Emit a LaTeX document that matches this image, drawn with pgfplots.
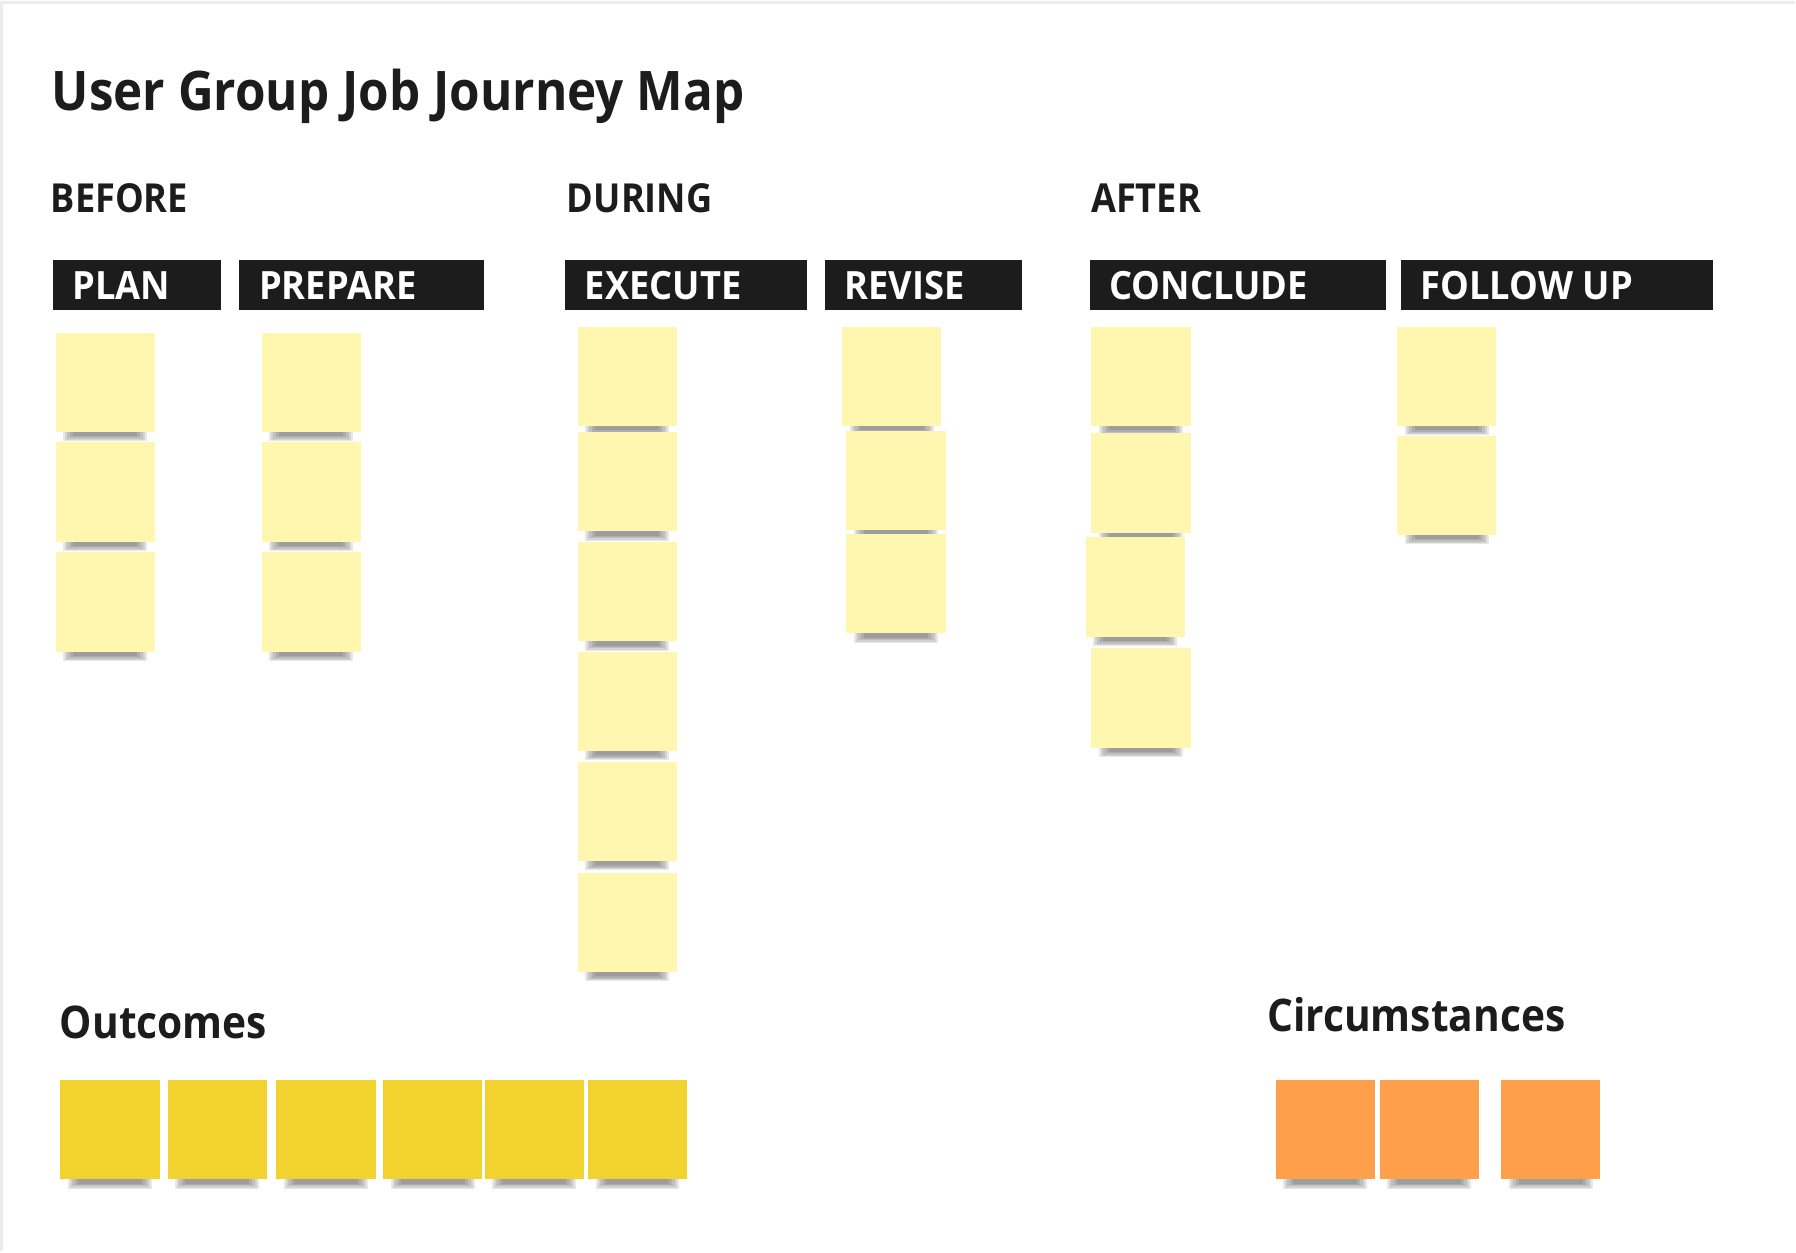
\documentclass[border=0pt]{standalone}
\usepackage{fontspec}
\setmainfont{Open Sans}[FakeStretch=0.905]
\newfontfamily\hdrfont{Open Sans}[FakeStretch=0.93]
\usepackage{pgfplots}
\pgfplotsset{compat=1.18}
\definecolor{ink}{HTML}{1C1C1C}
\definecolor{pale}{HTML}{FFF6B0}
\definecolor{gold}{HTML}{F2D22E}
\definecolor{orng}{HTML}{FD9F4B}
\pgfdeclareplotmark{shadow}{%
  \pgfsetfillcolor{black}%
  \pgfsetfillopacity{0.09}%
  \pgfpathrectangle{\pgfpoint{-21pt}{-29.5pt}}{\pgfpoint{42pt}{5.5pt}}\pgfusepath{fill}%
  \pgfpathrectangle{\pgfpoint{-20pt}{-29pt}}{\pgfpoint{40pt}{5pt}}\pgfusepath{fill}%
  \pgfpathrectangle{\pgfpoint{-19pt}{-28.3pt}}{\pgfpoint{38pt}{4.3pt}}\pgfusepath{fill}%
  \pgfpathrectangle{\pgfpoint{-17.5pt}{-27.6pt}}{\pgfpoint{35pt}{3.6pt}}\pgfusepath{fill}%
  \pgfpathrectangle{\pgfpoint{-16pt}{-27pt}}{\pgfpoint{32pt}{3pt}}\pgfusepath{fill}%
}
\begin{document}
\begin{tikzpicture}
\begin{axis}[width=898pt,height=626pt,scale only axis,
  xmin=0,xmax=1796,ymin=0,ymax=1252,y dir=reverse,
  hide axis,clip=false]
% page background and faint frame
\addplot[fill=white,draw=none] coordinates {(0,0)(1796,0)(1796,1252)(0,1252)} -- cycle;
\addplot[draw=black!8,line width=1.5pt] coordinates {(2,1252)(2,2)(1796,2)};
% header bars
\addplot[fill=ink,draw=none] coordinates {(52.7,260)(221.1,260)(221.1,310.4)(52.7,310.4)} -- cycle;
\addplot[fill=ink,draw=none] coordinates {(239.4,260)(484.5,260)(484.5,310.4)(239.4,310.4)} -- cycle;
\addplot[fill=ink,draw=none] coordinates {(565.8,260)(807.5,260)(807.5,310.4)(565.8,310.4)} -- cycle;
\addplot[fill=ink,draw=none] coordinates {(825.8,260)(1022.8,260)(1022.8,310.4)(825.8,310.4)} -- cycle;
\addplot[fill=ink,draw=none] coordinates {(1090.4,260)(1387,260)(1387,310.4)(1090.4,310.4)} -- cycle;
\addplot[fill=ink,draw=none] coordinates {(1402,260)(1714.6,260)(1714.6,310.4)(1402,310.4)} -- cycle;
% shadows of all notes
\addplot[only marks,mark=shadow] coordinates {
 (105.4,382.6)(105.4,492.5)(105.4,602.5)
 (311.5,382.6)(311.5,492.5)(311.5,602.5)
 (627.7,376.8)(627.7,482.2)(627.7,592.2)(627.7,702.1)(627.7,812.1)(627.7,923.2)
 (892.3,376.8)(896.8,481.1)(896.8,584.2)
 (1141.9,376.8)(1141.9,483.4)(1136.2,587.6)(1141.9,698.7)
 (1447.8,376.8)(1447.8,485.6)
 (110,1130.5)(217.6,1130.5)(326.4,1130.5)(433,1130.5)(534.9,1130.5)(638,1130.5)
 (1326.4,1130.5)(1430.6,1130.5)(1552,1130.5)};
% journey-step notes
\addplot[color=pale,only marks,mark=square*,mark size=24.6pt,mark options={fill=pale,draw=pale,line width=0pt}] coordinates {
 (105.4,382.6)(105.4,492.5)(105.4,602.5)
 (311.5,382.6)(311.5,492.5)(311.5,602.5)
 (627.7,376.8)(627.7,482.2)(627.7,592.2)(627.7,702.1)(627.7,812.1)(627.7,923.2)
 (892.3,376.8)(896.8,481.1)(896.8,584.2)
 (1141.9,376.8)(1141.9,483.4)(1136.2,587.6)(1141.9,698.7)
 (1447.8,376.8)(1447.8,485.6)};
% outcomes
\addplot[color=gold,only marks,mark=square*,mark size=24.6pt,mark options={fill=gold,draw=gold,line width=0pt}] coordinates {
 (110,1130.5)(217.6,1130.5)(326.4,1130.5)(433,1130.5)(534.9,1130.5)(638,1130.5)};
% circumstances
\addplot[color=orng,only marks,mark=square*,mark size=24.6pt,mark options={fill=orng,draw=orng,line width=0pt}] coordinates {
 (1326.4,1130.5)(1430.6,1130.5)(1552,1130.5)};
% texts
\node[anchor=base west,inner sep=0pt,text=ink,font=\fontsize{27.3}{30}\selectfont\bfseries] at (axis cs:51.5,111) {User Group Job Journey Map};
\node[anchor=base west,inner sep=0pt,text=ink,font=\fontsize{20}{22}\selectfont\bfseries] at (axis cs:50.4,213) {BEFORE};
\node[anchor=base west,inner sep=0pt,text=ink,font=\fontsize{20}{22}\selectfont\bfseries] at (axis cs:567,213) {DURING};
\node[anchor=base west,inner sep=0pt,text=ink,font=\fontsize{20}{22}\selectfont\bfseries] at (axis cs:1091.6,213) {AFTER};
\node[anchor=base west,inner sep=0pt,text=white,font=\hdrfont\fontsize{19.5}{22}\selectfont\bfseries] at (axis cs:72,300) {PLAN};
\node[anchor=base west,inner sep=0pt,text=white,font=\hdrfont\fontsize{19.5}{22}\selectfont\bfseries] at (axis cs:259,300) {PREPARE};
\node[anchor=base west,inner sep=0pt,text=white,font=\hdrfont\fontsize{19.5}{22}\selectfont\bfseries] at (axis cs:585,300) {EXECUTE};
\node[anchor=base west,inner sep=0pt,text=white,font=\hdrfont\fontsize{19.5}{22}\selectfont\bfseries] at (axis cs:845,300) {REVISE};
\node[anchor=base west,inner sep=0pt,text=white,font=\hdrfont\fontsize{19.5}{22}\selectfont\bfseries] at (axis cs:1110,300) {CONCLUDE};
\node[anchor=base west,inner sep=0pt,text=white,font=\hdrfont\fontsize{19.5}{22}\selectfont\bfseries] at (axis cs:1421.5,300) {FOLLOW UP};
\node[anchor=base west,inner sep=0pt,text=ink,font=\fontsize{22.5}{25}\selectfont\bfseries] at (axis cs:59.6,1039) {Outcomes};
\node[anchor=base west,inner sep=0pt,text=ink,font=\fontsize{22.5}{25}\selectfont\bfseries] at (axis cs:1268,1032) {Circumstances};
\end{axis}
\end{tikzpicture}
\end{document}
